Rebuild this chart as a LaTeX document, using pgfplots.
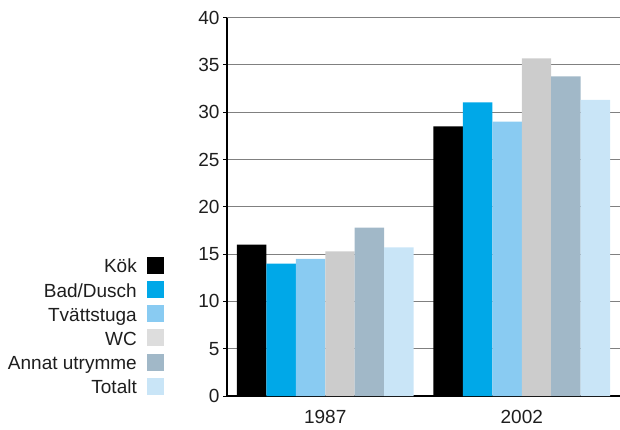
\documentclass[border=0pt]{standalone}
\usepackage{pgfplots}
\pgfplotsset{compat=1.18}
\usepackage{fontspec}
\setmainfont{Liberation Sans}
\definecolor{cKok}{RGB}{0,0,0}
\definecolor{cBad}{RGB}{0,168,232}
\definecolor{cTvatt}{RGB}{137,203,242}
\definecolor{cWC}{RGB}{204,204,204}
\definecolor{cWCl}{RGB}{221,221,221}
\definecolor{cAnnat}{RGB}{161,184,200}
\definecolor{cTot}{RGB}{201,229,247}
\definecolor{txt}{RGB}{30,30,30}
\begin{document}
\begin{tikzpicture}[x=1pt,y=1pt]
\begin{axis}[
  at={(227pt,33pt)}, anchor=south west,
  scale only axis, width=393pt, height=378.4pt,
  ymin=0, ymax=40, ytick={0,5,...,40},
  xmin=-0.5, xmax=1.5,
  xtick={0,1}, xticklabels={1987,2002},
  major x tick style={draw=none},
  extra x ticks={0.5,1.5}, extra x tick labels={},
  extra x tick style={tick align=inside, major tick length=9pt, tick style={black, line width=1pt}},
  axis x line*=bottom, axis y line*=left,
  axis line style={-, black, line width=1.3pt},
  ytick pos=left, ytick align=outside, major tick length=4pt,
  tick style={black, line width=1pt},
  ymajorgrids, grid style={black!50, line width=1.2pt},
  ybar, bar width=0.15,
  tick label style={font=\fontsize{19}{21}\selectfont, text=txt},
  xticklabel style={yshift=-7pt},
  /pgf/number format/assume math mode=true,
  legend cell align=right, legend plot pos=right,
  legend image code/.code={\fill[#1] (0pt,-8.5pt) rectangle (17pt,8.5pt);},
  legend style={at={(-0.1603,0.0026)}, anchor=south east, draw=none, fill=none,
    inner sep=0pt, font=\fontsize{19}{21}\selectfont, text=txt,
    nodes={inner sep=0pt, text height=16pt, text depth=1pt},
    /tikz/row sep=7.2pt, /tikz/column sep=10pt},
]
\addplot[fill=cKok, draw=none, bar shift=-0.375] coordinates {(0,16.0) (1,28.5)};
\addplot[fill=cBad, draw=none, bar shift=-0.225] coordinates {(0,14.0) (1,31.05)};
\addplot[fill=cTvatt, draw=none, bar shift=-0.075] coordinates {(0,14.5) (1,29.0)};
\addplot[fill=cWC, draw=none, bar shift=0.075,
  legend image code/.code={\fill[cWCl] (0pt,-8.5pt) rectangle (17pt,8.5pt);}] coordinates {(0,15.3) (1,35.7)};
\addplot[fill=cAnnat, draw=none, bar shift=0.225] coordinates {(0,17.8) (1,33.8)};
\addplot[fill=cTot, draw=none, bar shift=0.375] coordinates {(0,15.7) (1,31.3)};
\legend{Kök, Bad/Dusch, Tvättstuga, WC, Annat utrymme, Totalt}
\end{axis}
\pgfresetboundingbox
\path[use as bounding box] (0pt,0pt) rectangle (620pt,429pt);
\end{tikzpicture}
\end{document}
